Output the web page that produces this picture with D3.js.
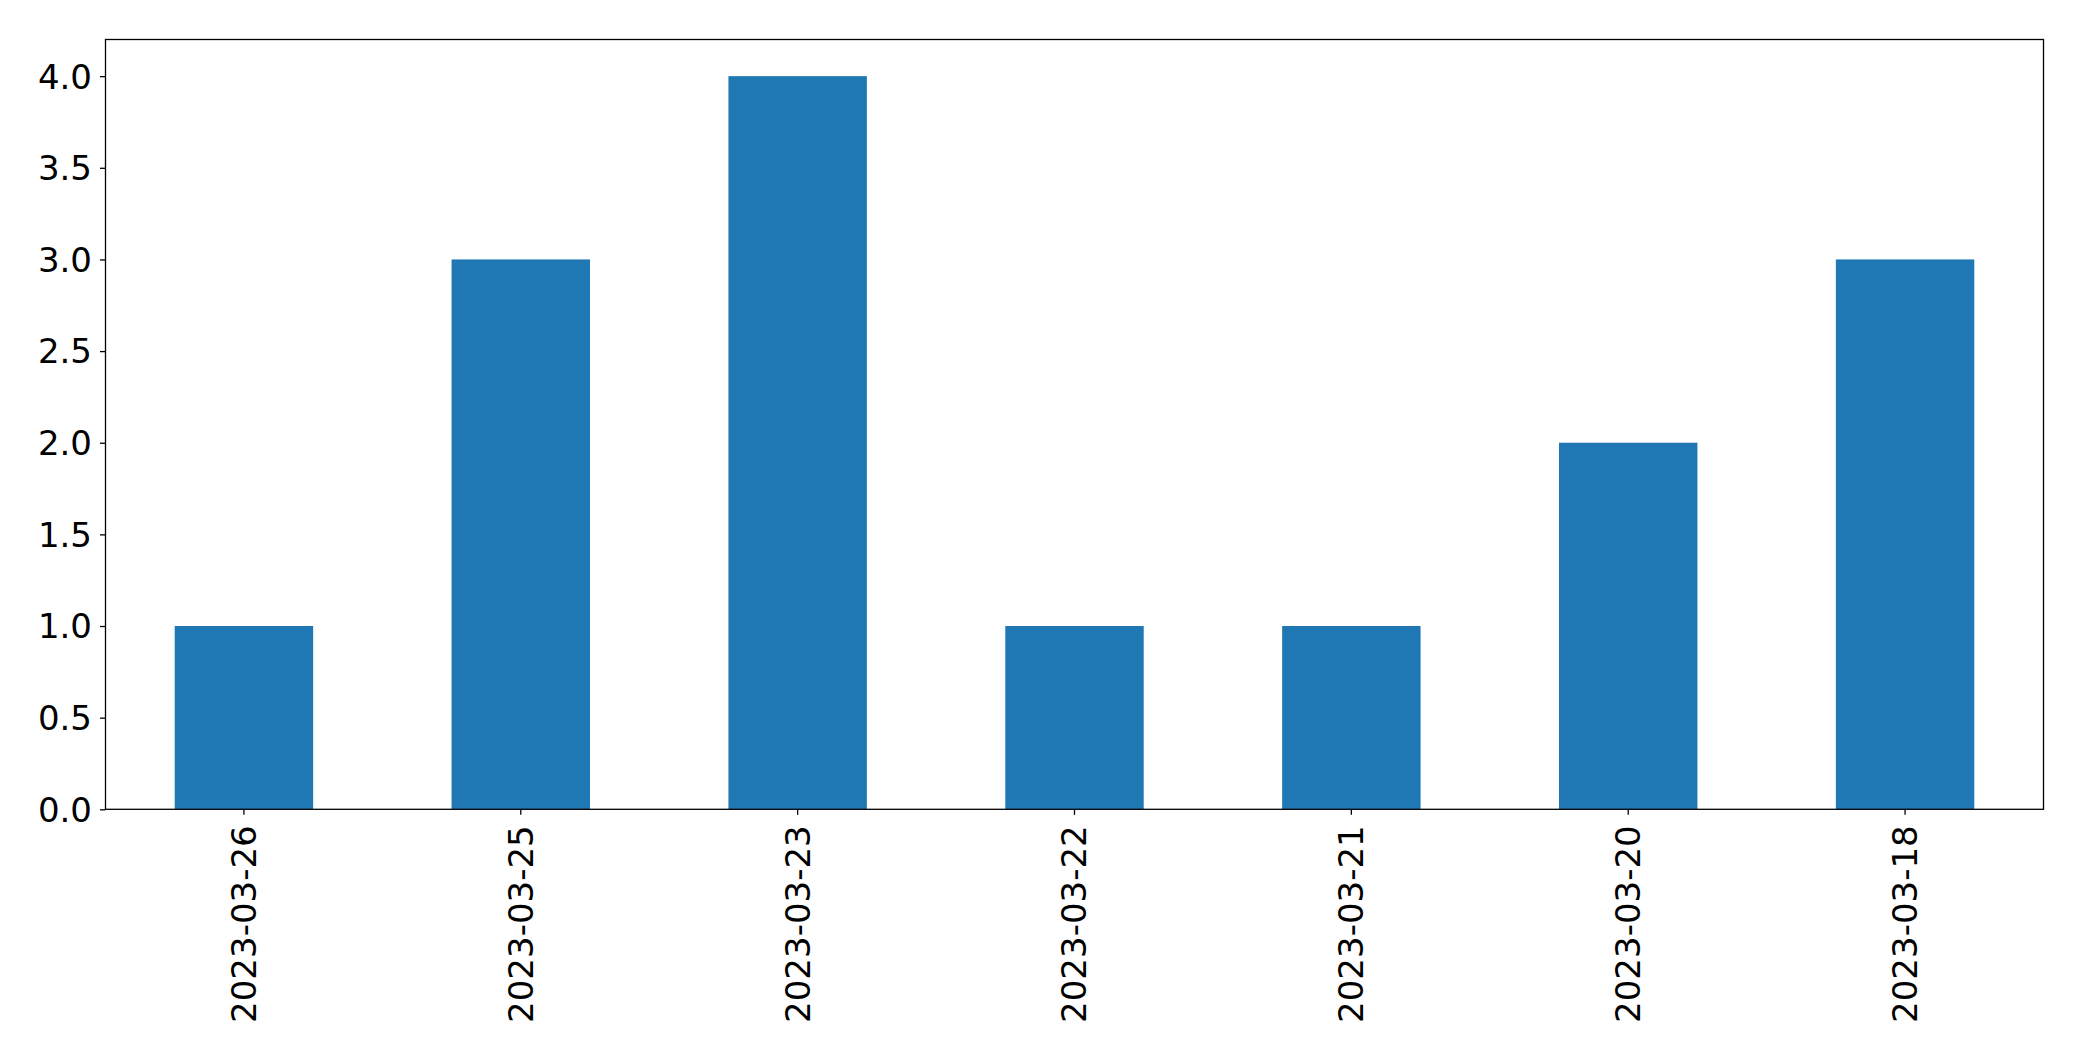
<!DOCTYPE html>
<html>
<head>
<meta charset="utf-8">
<script src="https://cdn.jsdelivr.net/npm/d3@7"></script>
<style>
html, body { margin: 0; padding: 0; background: #fff; }
svg { display: block; }
text { font-family: "DejaVu Sans", sans-serif; }
</style>
</head>
<body>
<script>
const categories = ["2023-03-26", "2023-03-25", "2023-03-23", "2023-03-22", "2023-03-21", "2023-03-20", "2023-03-18"];
const values = [1, 3, 4, 1, 1, 2, 3];
const yTicks = [0, 0.5, 1.0, 1.5, 2.0, 2.5, 3.0, 3.5, 4.0];

const W = 2082, H = 1061;
const m = { left: 105.5, right: 2082 - 2043.5, top: 39.5, bottom: 1061 - 809.3 };
const svg = d3.select("body").append("svg").attr("width", W).attr("height", H);

const x = d3.scaleBand().domain(categories).range([m.left, W - m.right]).paddingInner(0.5).paddingOuter(0.25);
const y = d3.scaleLinear().domain([0, 4.2]).range([H - m.bottom, m.top]);

svg.append("g").selectAll("rect").data(values).join("rect")
  .attr("x", (d, i) => x(categories[i]))
  .attr("width", x.bandwidth())
  .attr("y", d => y(d))
  .attr("height", d => y(0) - y(d))
  .attr("fill", "#1f77b4");

const yAxis = svg.append("g").attr("transform", `translate(${m.left},0)`)
  .call(d3.axisLeft(y).tickValues(yTicks).tickFormat(d3.format(".1f")).tickSize(5.5).tickPadding(8));
yAxis.selectAll("text").attr("font-size", 34).attr("fill", "#000").attr("dy", "0.35em").style("font-family", "DejaVu Sans");
yAxis.select(".domain").remove();
yAxis.selectAll("line").attr("stroke", "#000").attr("stroke-width", 1.3);

const xAxis = svg.append("g").attr("transform", `translate(0,${H - m.bottom})`)
  .call(d3.axisBottom(x).tickSize(5.5).tickPadding(0));
xAxis.select(".domain").remove();
xAxis.selectAll("line").attr("stroke", "#000").attr("stroke-width", 1.3);
xAxis.selectAll("text")
  .attr("font-size", 34).attr("fill", "#000").style("font-family", "DejaVu Sans")
  .attr("text-anchor", "end")
  .attr("dy", "0.35em")
  .attr("transform", "translate(0,16) rotate(-90)")
  .attr("x", 0).attr("y", 0);

svg.append("rect")
  .attr("x", m.left).attr("y", m.top)
  .attr("width", W - m.right - m.left).attr("height", H - m.bottom - m.top)
  .attr("fill", "none").attr("stroke", "#000").attr("stroke-width", 1.3);
</script>
</body>
</html>
